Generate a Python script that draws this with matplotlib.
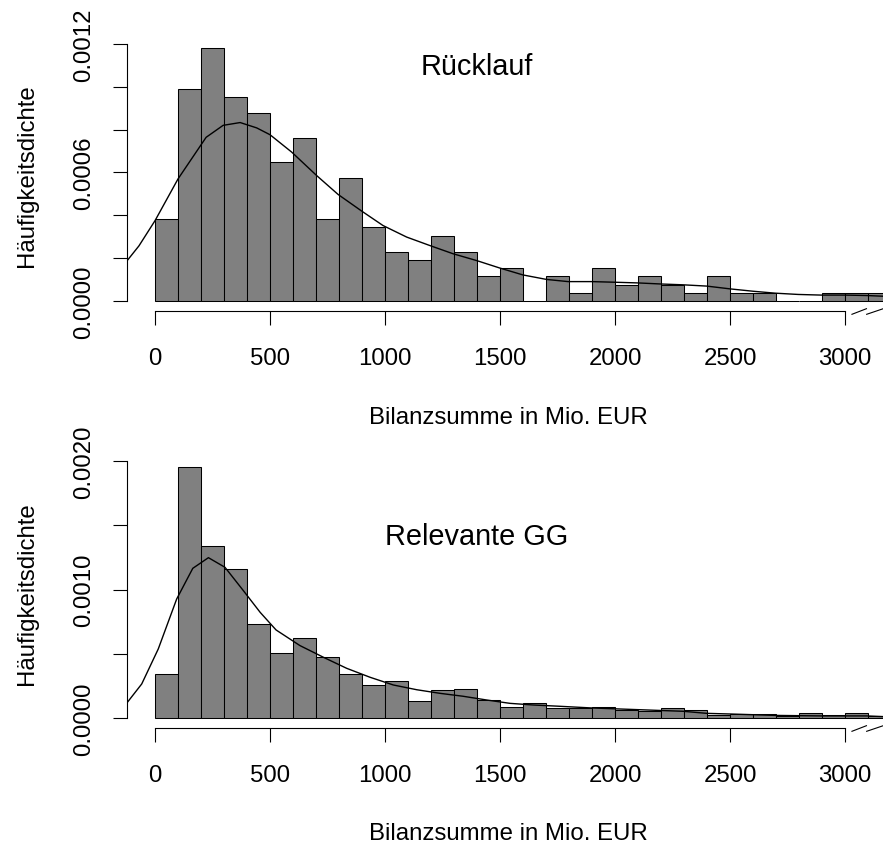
import numpy as np
import matplotlib
matplotlib.use("Agg")
import matplotlib.pyplot as plt
import matplotlib.transforms as mtransforms

plt.rcParams['font.family'] = ['Liberation Sans', 'DejaVu Sans']

# Histogram bins (Mio. EUR), width 100
bin_edges = np.arange(0, 3300, 100)

# Rücklauf: density per bin
dens_ruecklauf = [0.000382, 0.000992, 0.001183, 0.000954, 0.000878, 0.000649,
                  0.000763, 0.000382, 0.000573, 0.000344, 0.000229, 0.000191,
                  0.000305, 0.000229, 0.000115, 0.000153, 0.0, 0.000115,
                  0.000038, 0.000153, 0.000076, 0.000115, 0.000076, 0.000038,
                  0.000115, 0.000038, 0.000038, 0.0, 0.0, 0.000038,
                  0.000038, 0.000038]

# Relevante GG: density per bin
dens_relevant = [0.000343, 0.001953, 0.001338, 0.001161, 0.000732, 0.000504,
                 0.000621, 0.000473, 0.000343, 0.000257, 0.000291, 0.000130,
                 0.000218, 0.000226, 0.000140, 0.000087, 0.000115, 0.000080,
                 0.000080, 0.000088, 0.000065, 0.000057, 0.000078, 0.000065,
                 0.000026, 0.000034, 0.000031, 0.000018, 0.000036, 0.000020,
                 0.000036, 0.000015]

# kernel density curves
kde_x_ruecklauf = [-122, -70, 0, 100, 222, 296, 370, 442, 500, 594, 703, 796,
                   899, 991, 1094, 1196, 1296, 1399, 1500, 1600, 1703, 1796,
                   1899, 2000, 2096, 2196, 2296, 2399, 2500, 2600, 2696, 2796,
                   2896, 3000, 3094, 3200]
kde_y_ruecklauf = [0.000187, 0.000257, 0.000375, 0.00057, 0.000764, 0.00082,
                   0.000833, 0.000808, 0.000776, 0.000695, 0.000585, 0.000497,
                   0.000419, 0.000352, 0.000298, 0.000258, 0.00022, 0.000188,
                   0.000153, 0.000121, 0.0001, 0.00009, 0.00009, 0.000087,
                   0.000084, 0.000079, 0.000075, 0.000069, 0.000056, 0.000045,
                   0.000036, 0.00003, 0.000027, 0.000027, 0.000025, 0.00002]

kde_x_relevant = [-126, -58, 14, 94, 164, 232, 304, 384, 457, 526, 630, 732,
                  833, 935, 1036, 1138, 1239, 1340, 1442, 1543, 1645, 1750,
                  1899, 2097, 2297, 2399, 2500, 2697, 2896, 3094, 3200]
kde_y_relevant = [0.000109, 0.000265, 0.000538, 0.000927, 0.001166, 0.001249,
                  0.001174, 0.000992, 0.000823, 0.000686, 0.000564, 0.000473,
                  0.000387, 0.000317, 0.000257, 0.00022, 0.000192, 0.000169,
                  0.00014, 0.000114, 0.000101, 0.000092, 0.000078, 0.000065,
                  0.000052, 0.000036, 0.000031, 0.00002, 0.000016, 0.000016,
                  0.000008]

panels = [
    dict(title="Rücklauf", dens=dens_ruecklauf, kx=kde_x_ruecklauf, ky=kde_y_ruecklauf,
         yticks=np.arange(0, 0.00121, 0.0002), ylabels=["0.0000", "0.0006", "0.0012"],
         title_y=0.00106, rect=[127 / 883, 1 - 312 / 845, 756 / 883, 273.5 / 845]),
    dict(title="Relevante GG", dens=dens_relevant, kx=kde_x_relevant, ky=kde_y_relevant,
         yticks=np.arange(0, 0.00201, 0.0005), ylabels=["0.0000", "0.0010", "0.0020"],
         title_y=0.001356, rect=[127 / 883, 1 - 729 / 845, 756 / 883, 270.7 / 845]),
]

fig = plt.figure(figsize=(8.83, 8.45), dpi=100)
fs = 17.3

for p in panels:
    ax = fig.add_axes(p["rect"])
    ax.bar(bin_edges[:-1], p["dens"], width=100, align="edge",
           color="#808080", edgecolor="black", linewidth=0.75)
    ax.plot(p["kx"], p["ky"], color="black", lw=1.0)

    m = max(p["dens"])
    ax.set_ylim(-0.04 * m, 1.04 * m)
    ax.set_xlim(-122, 3165)

    for s in ["top", "right"]:
        ax.spines[s].set_visible(False)
    ax.spines["left"].set_bounds(0, p["yticks"][-1])
    ax.spines["bottom"].set_bounds(0, 3000)
    ax.spines["left"].set_linewidth(0.8)
    ax.spines["bottom"].set_linewidth(0.8)

    ax.set_xticks(np.arange(0, 3001, 500))
    ax.set_xticklabels([str(v) for v in range(0, 3001, 500)])
    ylab = [f"{v:.4f}" if f"{v:.4f}" in p["ylabels"] else "" for v in p["yticks"]]
    ax.set_yticks(p["yticks"])
    ax.set_yticklabels(ylab, rotation=90, va="center")
    ax.tick_params(axis="x", length=10, width=0.8, pad=16, labelsize=fs)
    ax.tick_params(axis="y", length=10, width=0.8, pad=13, labelsize=fs)

    ax.set_xlabel("Bilanzsumme in Mio. EUR", fontsize=fs)
    ax.xaxis.set_label_coords(0.505, -0.347)
    ax.set_ylabel("Häufigkeitsdichte", fontsize=fs)
    ax.yaxis.set_label_coords(-0.1177, 0.5)

    ax.text(1400, p["title_y"], p["title"], fontsize=fs * 1.2,
            ha="center", va="baseline")

    # axis break marks
    h = p["rect"][3] * 845
    trans = mtransforms.blended_transform_factory(ax.transData, ax.transAxes)
    for x0, x1 in [(3030, 3093), (3094, 3166)]:
        ax.plot([x0, x1], [-3.3 / h, 2.3 / h], color="black", lw=0.8,
                transform=trans, clip_on=False)

fig.savefig("out.png", dpi=100)
